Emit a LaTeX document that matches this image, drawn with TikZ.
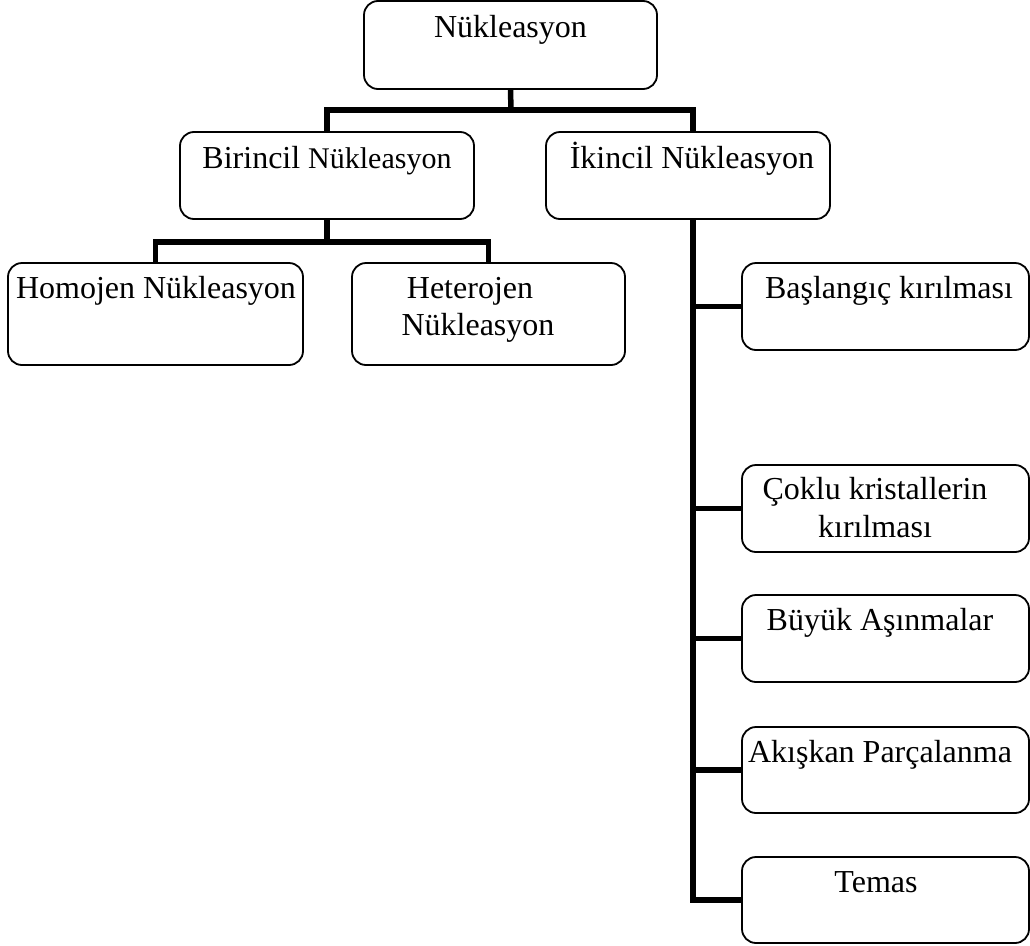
\documentclass[tikz,border=0pt]{standalone}
\usepackage{fontspec}
\setmainfont{Liberation Serif}
\begin{document}
\begin{tikzpicture}[x=1pt,y=-1pt,
  box/.style={draw, line width=1.8pt, rounded corners=14pt, inner sep=0pt},
  txt/.style={anchor=base, inner sep=0pt, font=\fontsize{32}{37}\selectfont},
  conn/.style={line width=5.5pt, line join=miter}]
\useasboundingbox (0,0) rectangle (1030,945);
% boxes
\node[box, minimum width=293pt, minimum height=88pt] (n0) at (510.5,45) {};
\node[box, minimum width=294pt, minimum height=87pt] (n1) at (327,175.5) {};
\node[box, minimum width=284pt, minimum height=87pt] (n2) at (688,175.5) {};
\node[box, minimum width=295pt, minimum height=102pt] (n3) at (155.5,314) {};
\node[box, minimum width=273pt, minimum height=102pt] (n4) at (488.5,314) {};
\node[box, minimum width=287pt, minimum height=87pt] (r1) at (885.5,306.5) {};
\node[box, minimum width=287pt, minimum height=87pt] (r2) at (885.5,508.5) {};
\node[box, minimum width=287pt, minimum height=87pt] (r3) at (885.5,638.5) {};
\node[box, minimum width=287pt, minimum height=86pt] (r4) at (885.5,770) {};
\node[box, minimum width=287pt, minimum height=86pt] (r5) at (885.5,900) {};
% texts
\node[txt] (t0) at (510.5,37) {Nükleasyon};
\node[txt] (t1) at (327,168) {Birincil {\fontsize{30}{37}\selectfont Nükleasyon}};
\node[txt] (t2) at (692,168) {İkincil Nükleasyon};
\node[txt] (t3) at (156,298) {Homojen Nükleasyon};
\node[txt] (t4a) at (470,298) {Heterojen};
\node[txt] (t4b) at (478,335) {Nükleasyon};
\node[txt] (u1) at (889,298) {Başlangıç kırılması};
\node[txt] (u2a) at (875,499) {Çoklu kristallerin};
\node[txt] (u2b) at (875,537) {kırılması};
\node[txt] (u3) at (880,630) {Büyük Aşınmalar};
\node[txt] (u4) at (880,762) {Akışkan Parçalanma};
\node[txt] (u5) at (876,892) {Temas};
% connectors
\coordinate (j0) at (511,110);
\coordinate (k2) at (693,132);
\coordinate (s2) at (693,219);
\draw[conn] (n0.south) -- (j0);
\draw[conn] (j0) -| (n1.north);
\draw[conn] (j0) -| (k2);
\coordinate (j1) at (327,242);
\draw[conn] (n1.south) -- (j1);
\draw[conn] (j1) -| (n3.north);
\draw[conn] (j1) -| (n4.north);
\draw[conn] (s2) |- (r5.west);
\draw[conn] (s2 |- r1.west) -- (r1.west);
\draw[conn] (s2 |- r2.west) -- (r2.west);
\draw[conn] (s2 |- r3.west) -- (r3.west);
\draw[conn] (s2 |- r4.west) -- (r4.west);
\end{tikzpicture}
\end{document}
